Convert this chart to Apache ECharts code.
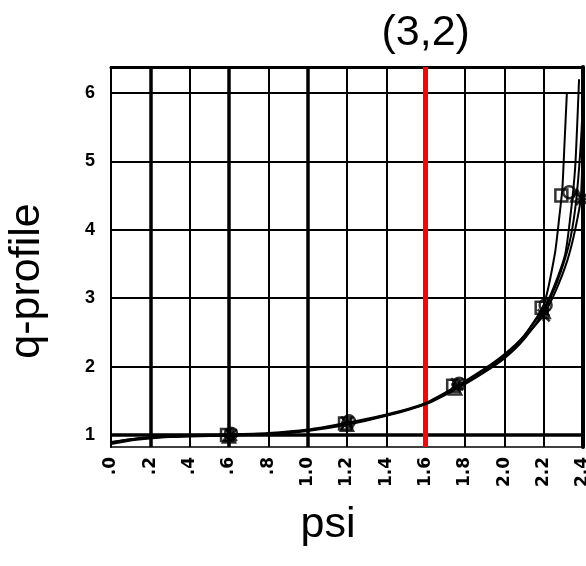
<!DOCTYPE html>
<html><head><meta charset="utf-8">
<script src="https://cdn.jsdelivr.net/npm/echarts@6/dist/echarts.min.js"></script>
<style>html,body{margin:0;padding:0;background:#fff}#c{width:586px;height:566px}</style>
</head><body><div id="c"></div>
<script>
// ---- data ----
const xTicks = [0, 0.2, 0.4, 0.6, 0.8, 1.0, 1.2, 1.4, 1.6, 1.8, 2.0, 2.2, 2.4];
const xTickLabels = ['.0', '.2', '.4', '.6', '.8', '1.0', '1.2', '1.4', '1.6', '1.8', '2.0', '2.2', '2.4'];
const yTicks = [1, 2, 3, 4, 5, 6];
const yTickLabels = ['1', '2', '3', '4', '5', '6'];
const resonancePsi = 1.6;
const resonanceLabel = '(3,2)';
const thickGridPsi = [0.2, 0.6, 1.0];

const psiA = [0.0, 0.1, 0.2, 0.3, 0.4, 0.6, 0.8, 1.0, 1.2, 1.4, 1.6, 1.76, 1.9, 2.0, 2.1, 2.2, 2.257, 2.28, 2.295, 2.305, 2.318];
const qA   = [0.88, 0.93, 0.96, 0.98, 0.99, 1.0, 1.02, 1.07, 1.16, 1.29, 1.46, 1.70, 1.95, 2.15, 2.45, 2.90, 3.65, 4.2, 4.6, 5.2, 6.0];
const psiB = [0.0, 0.1, 0.2, 0.3, 0.4, 0.6, 0.8, 1.0, 1.2, 1.4, 1.6, 1.76, 1.9, 2.0, 2.1, 2.2, 2.25, 2.31, 2.34, 2.36, 2.37, 2.38];
const qB   = [0.90, 0.94, 0.97, 0.99, 1.0, 1.01, 1.03, 1.08, 1.18, 1.30, 1.47, 1.72, 1.97, 2.18, 2.45, 2.85, 3.15, 3.65, 4.3, 4.9, 5.5, 6.2];
const psiC = [0.0, 0.1, 0.2, 0.3, 0.4, 0.6, 0.8, 1.0, 1.2, 1.4, 1.6, 1.76, 1.9, 2.0, 2.1, 2.2, 2.27, 2.33, 2.36, 2.38, 2.395, 2.4];
const qC   = [0.87, 0.92, 0.95, 0.97, 0.98, 0.99, 1.01, 1.06, 1.15, 1.28, 1.45, 1.68, 1.92, 2.12, 2.40, 2.80, 3.25, 3.8, 4.3, 4.9, 5.6, 6.5];
const psiD = [0.0, 0.1, 0.2, 0.3, 0.4, 0.6, 0.8, 1.0, 1.2, 1.4, 1.6, 1.76, 1.9, 2.0, 2.1, 2.2, 2.26, 2.32, 2.36, 2.39, 2.41];
const qD   = [0.89, 0.94, 0.96, 0.98, 0.99, 1.0, 1.02, 1.07, 1.17, 1.29, 1.46, 1.71, 1.94, 2.14, 2.42, 2.76, 3.1, 3.55, 4.0, 4.5, 6.5];

const markPsiA = [0.59, 1.19, 1.74, 2.19, 2.29];
const markQA   = [1.0, 1.17, 1.72, 2.86, 4.5];
const markPsiB = [0.61, 1.21, 1.77, 2.21, 2.33];
const markQB   = [1.02, 1.20, 1.75, 2.9, 4.55];
const markPsiC = [0.60, 1.20, 1.75, 2.20, 2.37];
const markQC   = [0.98, 1.15, 1.68, 2.8, 4.5];
const markPsiD = [0.61, 1.20, 1.76, 2.20, 2.395];
const markQD   = [1.0, 1.18, 1.74, 2.75, 4.45];

// ---- helpers ----
const zip = (xs, ys) => xs.map((x, i) => [x, ys[i]]);
const labelFor = (ticks, labels) => v => {
  let best = 0;
  ticks.forEach((t, i) => { if (Math.abs(t - v) < Math.abs(ticks[best] - v)) best = i; });
  return labels[best];
};
const crossPath = 'path://M0,0L10,10M10,0L0,10M5,0L5,10M0,5L10,5';

function lineSeries(psi, q, extra) {
  return Object.assign({
    type: 'line', data: zip(psi, q), showSymbol: false, smooth: 0.2,
    lineStyle: { color: '#000', width: 2 }, clip: true, z: 5
  }, extra || {});
}
function markSeries(psi, q, symbol) {
  return {
    type: 'scatter', data: zip(psi, q), symbol: symbol, symbolSize: 12,
    itemStyle: { color: 'rgba(255,255,255,0)', borderColor: '#000', borderWidth: 2.5 }, z: 6, clip: false
  };
}

const chart = echarts.init(document.getElementById('c'), null, { renderer: 'canvas' });
const tickFont = { fontFamily: 'DejaVu Sans', fontWeight: 'bold', fontSize: 17, color: '#000' };
const nameFont = { fontFamily: 'Liberation Sans', fontSize: 43, color: '#000' };

chart.setOption({
  animation: false,
  backgroundColor: '#fff',
  grid: { left: 111, right: 3, top: 67, bottom: 119, containLabel: false, outerBoundsMode: 'none' },
  xAxis: [{
    type: 'value', min: 0, max: 2.4, interval: 0.2,
    axisLine: { show: true, onZero: false, lineStyle: { color: '#000', width: 1.5 } },
    axisTick: { show: false },
    axisLabel: Object.assign({ rotate: 90, margin: 10, showMinLabel: true, showMaxLabel: true,
      formatter: labelFor(xTicks, xTickLabels) }, tickFont),
    splitLine: { show: true, lineStyle: { color: '#000', width: 2 } },
    name: 'psi', nameLocation: 'middle', nameGap: 57,
    nameTextStyle: Object.assign({ padding: [0, 38, 0, 0] }, nameFont)
  }, {
    type: 'value', min: 0, max: 2.4, position: 'top',
    axisLine: { show: true, onZero: false, lineStyle: { color: '#000', width: 3 } },
    axisTick: { show: false }, axisLabel: { show: false }, splitLine: { show: false }
  }],
  yAxis: [{
    type: 'value', min: 0.825, max: 6.38,
    axisLine: { show: true, onZero: false, lineStyle: { color: '#000', width: 2 } },
    axisTick: { show: false, customValues: yTicks },
    axisLabel: Object.assign({ margin: 16, customValues: yTicks,
      formatter: labelFor(yTicks, yTickLabels) }, tickFont, { fontFamily: 'Liberation Sans', fontSize: 18 }),
    splitLine: { show: true, lineStyle: { color: '#000', width: 2 } },
    name: 'q-profile', nameLocation: 'middle', nameRotate: 90, nameGap: 62,
    nameTextStyle: Object.assign({ padding: [0, 48, 0, 0] }, nameFont)
  }, {
    type: 'value', min: 0.825, max: 6.38, position: 'right',
    axisLine: { show: true, onZero: false, lineStyle: { color: '#000', width: 4 } },
    axisTick: { show: false }, axisLabel: { show: false }, splitLine: { show: false }
  }],
  series: [
    lineSeries(psiA, qA, {
      markLine: {
        silent: true, symbol: 'none', animation: false,
        data: thickGridPsi.map(p => ({ xAxis: p, lineStyle: { color: '#000', width: 3.5, type: 'solid' }, label: { show: false } }))
          .concat([{ yAxis: 1, lineStyle: { color: '#000', width: 3.5, type: 'solid' }, label: { show: false } }])
          .concat([{ xAxis: resonancePsi, lineStyle: { color: '#ff0000', width: 5, type: 'solid' },
            label: { show: true, position: 'end', distance: 12, formatter: resonanceLabel,
              fontFamily: 'Liberation Sans', fontSize: 43, color: '#000' } }])
      }
    }),
    lineSeries(psiB, qB),
    lineSeries(psiC, qC),
    lineSeries(psiD, qD),
    markSeries(markPsiA, markQA, 'rect'),
    markSeries(markPsiB, markQB, 'circle'),
    markSeries(markPsiC, markQC, 'triangle'),
    markSeries(markPsiD, markQD, crossPath)
  ]
});
</script>
</body></html>
